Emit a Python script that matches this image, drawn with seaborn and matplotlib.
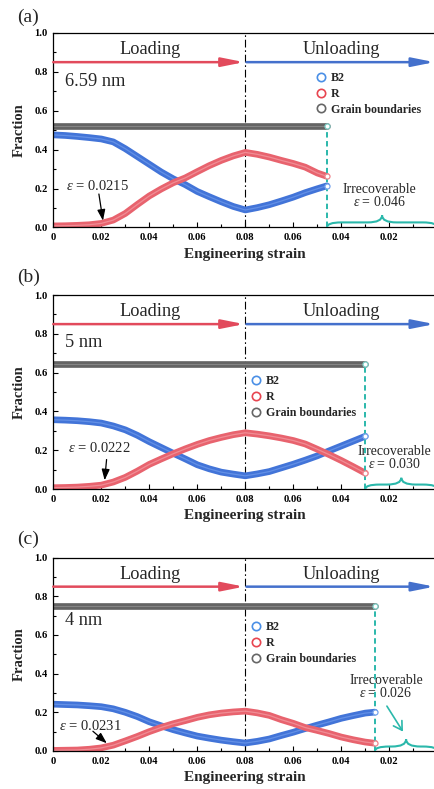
import matplotlib
matplotlib.use("Agg")
import matplotlib.pyplot as plt
import matplotlib.patheffects as pe
from matplotlib.path import Path
from matplotlib.patches import PathPatch
from matplotlib.lines import Line2D
import numpy as np
import pandas as pd
import seaborn as sns

# ---------------- data ----------------
panel_tags = ["(a)", "(b)", "(c)"]
grain_sizes = ["6.59 nm", "5 nm", "4 nm"]
onset_strain = [0.0215, 0.0222, 0.0231]
residual_strain = [0.046, 0.030, 0.026]
gb_fraction = [0.52, 0.645, 0.75]
series_names = ["B2", "R", "Grain boundaries"]

load_strain = [0.0, 0.005, 0.01, 0.015, 0.02, 0.025, 0.03, 0.035, 0.04,
               0.045, 0.05, 0.055, 0.06, 0.065, 0.07, 0.075, 0.08]

# (a) 6.59 nm
b2_load_a = [0.476, 0.473, 0.468, 0.462, 0.455, 0.44, 0.405, 0.365, 0.325,
             0.285, 0.25, 0.22, 0.185, 0.158, 0.132, 0.108, 0.09]
r_load_a = [0.008, 0.009, 0.011, 0.014, 0.021, 0.038, 0.072, 0.118, 0.162,
            0.198, 0.23, 0.255, 0.287, 0.318, 0.345, 0.368, 0.386]
unload_strain_a = [0.08, 0.075, 0.07, 0.065, 0.06, 0.055, 0.05, 0.046]
b2_unload_a = [0.09, 0.102, 0.117, 0.136, 0.156, 0.179, 0.199, 0.214]
r_unload_a = [0.386, 0.376, 0.362, 0.345, 0.329, 0.31, 0.28, 0.263]

# (b) 5 nm
b2_load_b = [0.357, 0.355, 0.352, 0.347, 0.34, 0.325, 0.305, 0.277, 0.244,
             0.214, 0.184, 0.155, 0.125, 0.104, 0.087, 0.077, 0.068]
r_load_b = [0.007, 0.008, 0.01, 0.014, 0.02, 0.036, 0.06, 0.092, 0.127,
            0.155, 0.182, 0.207, 0.23, 0.25, 0.266, 0.28, 0.29]
unload_strain_b = [0.08, 0.075, 0.07, 0.065, 0.06, 0.055, 0.05, 0.045, 0.04,
                   0.035, 0.03]
b2_unload_b = [0.068, 0.078, 0.09, 0.109, 0.128, 0.149, 0.171, 0.197, 0.222,
               0.247, 0.272]
r_unload_b = [0.29, 0.283, 0.274, 0.263, 0.25, 0.232, 0.205, 0.177, 0.147,
              0.115, 0.082]

# (c) 4 nm
b2_load_c = [0.242, 0.24, 0.238, 0.234, 0.229, 0.218, 0.2, 0.178, 0.151,
             0.13, 0.11, 0.093, 0.077, 0.066, 0.056, 0.048, 0.041]
r_load_c = [0.003, 0.004, 0.005, 0.009, 0.016, 0.03, 0.052, 0.075, 0.1,
            0.122, 0.141, 0.157, 0.174, 0.187, 0.196, 0.202, 0.206]
unload_strain_c = [0.08, 0.075, 0.07, 0.065, 0.06, 0.055, 0.05, 0.045, 0.04,
                   0.035, 0.03, 0.026]
b2_unload_c = [0.041, 0.05, 0.062, 0.08, 0.097, 0.116, 0.134, 0.151, 0.169,
               0.183, 0.196, 0.201]
r_unload_c = [0.206, 0.197, 0.184, 0.162, 0.143, 0.121, 0.106, 0.09, 0.072,
              0.058, 0.046, 0.04]

b2_load = [b2_load_a, b2_load_b, b2_load_c]
r_load = [r_load_a, r_load_b, r_load_c]
unload_strain = [unload_strain_a, unload_strain_b, unload_strain_c]
b2_unload = [b2_unload_a, b2_unload_b, b2_unload_c]
r_unload = [r_unload_a, r_unload_b, r_unload_c]

x_ticks = [0.0, 0.02, 0.04, 0.06, 0.08, 0.10, 0.12, 0.14, 0.16]
x_tick_labels = ["0", "0.02", "0.04", "0.06", "0.08", "0.06", "0.04", "0.02", "0"]
y_ticks = [0.0, 0.2, 0.4, 0.6, 0.8, 1.0]
y_tick_labels = ["0.0", "0.2", "0.4", "0.6", "0.8", "1.0"]

# ---------------- style ----------------
sns.set_theme(style="ticks")
plt.rcParams["font.family"] = ["Liberation Serif", "DejaVu Serif"]
plt.rcParams["mathtext.fontset"] = "custom"
plt.rcParams["mathtext.rm"] = "Liberation Serif"
plt.rcParams["mathtext.it"] = "Liberation Serif:italic"
plt.rcParams["axes.linewidth"] = 0.9

BLUE_OUT, BLUE_IN = "#4274d8", "#6390e6"
RED_OUT, RED_IN = "#e8636e", "#f08d95"
GRAY_OUT, GRAY_IN = "#646464", "#858585"
TEAL = "#2bb8ab"
ARROW_RED, ARROW_BLUE = "#e24a5c", "#4470cc"
LEG_COLORS = ["#4a8fe6", "#e84550", "#666666"]

# per-panel layout details
axes_boxes = [[0.1228, 0.7117, 0.8848, 0.2465],
              [0.1228, 0.3802, 0.8848, 0.2459],
              [0.1228, 0.0482, 0.8848, 0.2450]]
tag_y = [0.978, 0.649, 0.316]
size_label_y = [0.75, 0.754, 0.675]
legend_anchor = [(0.1095, 0.80), (0.0823, 0.587), (0.0823, 0.67)]
onset_text = [(0.0184, 0.214), (0.019, 0.211), (0.0153, 0.13)]
onset_tail = [(0.0190, 0.172), (0.0222, 0.152), (0.0165, 0.102)]
onset_tip_y = [0.035, 0.045, 0.04]
irr_text = [(0.136, 0.195, 0.13), (0.142, 0.192, 0.129), (0.1386, 0.363, 0.298)]
brace_levels = [(0.026, 0.062), (0.023, 0.058), (0.023, 0.06)]


def band(ax, x, y, outer, inner, inner_lw=0.9):
    sns.lineplot(x=x, y=y, ax=ax, color=inner, lw=inner_lw, sort=False,
                 estimator=None, legend=False,
                 solid_capstyle="round", solid_joinstyle="round",
                 path_effects=[pe.Stroke(linewidth=4.8, foreground=outer,
                                         capstyle="round", joinstyle="round"),
                               pe.Normal()])


def brace(ax, x0, x1, arm, peak, color):
    xm = 0.5 * (x0 + x1)
    q = 0.006
    verts = [(x0, 0.0), (x0, arm), (x0 + q, arm),
             (xm - q, arm),
             (xm, arm), (xm, peak),
             (xm, arm), (xm + q, arm),
             (x1 - q, arm),
             (x1, arm), (x1, 0.0)]
    codes = [Path.MOVETO, Path.CURVE3, Path.CURVE3,
             Path.LINETO,
             Path.CURVE3, Path.CURVE3,
             Path.CURVE3, Path.CURVE3,
             Path.LINETO,
             Path.CURVE3, Path.CURVE3]
    ax.add_patch(PathPatch(Path(verts, codes), fill=False, edgecolor=color,
                           lw=1.5, clip_on=True, zorder=4))


fig = plt.figure(figsize=(4.34, 7.89), dpi=100)

for i in range(3):
    ax = fig.add_axes(axes_boxes[i])
    end_path = 0.16 - residual_strain[i]

    path_x = list(load_strain) + [0.16 - s for s in unload_strain[i][1:]]
    b2_y = list(b2_load[i]) + list(b2_unload[i][1:])
    r_y = list(r_load[i]) + list(r_unload[i][1:])
    df = pd.DataFrame({"path": path_x, "B2": b2_y, "R": r_y})

    # grain boundary fraction stays flat through the whole cycle
    gb_x = [0.0, 0.08, end_path]
    gb_y = [gb_fraction[i]] * 3
    band(ax, gb_x, gb_y, GRAY_OUT, GRAY_IN, inner_lw=0.8)
    band(ax, df["path"], df["B2"], BLUE_OUT, BLUE_IN)
    band(ax, df["path"], df["R"], RED_OUT, RED_IN)

    # open end points at the end of unloading
    ax.plot([end_path], [b2_y[-1]], "o", ms=3.6, mfc="white", mec="#7aa6ee", mew=0.9, zorder=5)
    ax.plot([end_path], [r_y[-1]], "o", ms=3.6, mfc="white", mec="#f08a92", mew=0.9, zorder=5)
    ax.plot([end_path], [gb_fraction[i]], "o", ms=3.6, mfc="white", mec="#7fd0c8", mew=0.9, zorder=5)

    # loading / unloading guides
    ax.axvline(0.08, color="black", lw=0.8, ls=(0, (7, 2.5, 1.5, 2.5)), zorder=1)
    ax.plot([end_path, end_path], [0, gb_fraction[i]], color=TEAL, lw=1.4,
            dashes=(2.8, 1.8), zorder=4)
    ax.annotate("", xy=(0.0795, 0.85), xytext=(0.0, 0.85),
                arrowprops=dict(arrowstyle="-|>,head_length=1.1,head_width=0.22",
                                color=ARROW_RED, lw=1.8, shrinkA=0, shrinkB=0))
    ax.annotate("", xy=(0.1588, 0.85), xytext=(0.0805, 0.85),
                arrowprops=dict(arrowstyle="-|>,head_length=1.1,head_width=0.22",
                                color=ARROW_BLUE, lw=1.8, shrinkA=0, shrinkB=0))
    ax.text(0.0403, 0.913, "Loading", ha="center", va="center", fontsize=13.2)
    ax.text(0.12, 0.913, "Unloading", ha="center", va="center", fontsize=13.2)
    ax.text(0.005, size_label_y[i], grain_sizes[i], ha="left", va="center", fontsize=13.2)

    # transformation onset
    tx, ty = onset_text[i]
    ax.text(tx, ty, r"$\varepsilon$ = %.4f" % onset_strain[i], ha="center",
            va="center", fontsize=10.5)
    ax.annotate("", xy=(onset_strain[i] - 0.0008, onset_tip_y[i]), xytext=onset_tail[i],
                arrowprops=dict(arrowstyle="-|>,head_length=0.55,head_width=0.2",
                                color="black", lw=0.9, shrinkA=0, shrinkB=0))

    # irrecoverable strain
    ix, iy1, iy2 = irr_text[i]
    ax.text(ix, iy1, "Irrecoverable", ha="center", va="center", fontsize=10)
    ax.text(ix, iy2, r"$\varepsilon$ = %.3f" % residual_strain[i], ha="center",
            va="center", fontsize=10)
    arm, peak = brace_levels[i]
    brace(ax, end_path, 0.16, arm, peak, TEAL)
    if i == 2:
        ax.annotate("", xy=(0.1457, 0.10), xytext=(0.139, 0.232),
                    arrowprops=dict(arrowstyle="->,head_length=0.5,head_width=0.3",
                                    color=TEAL, lw=1.2, shrinkA=0, shrinkB=0))

    # legend
    handles = [Line2D([], [], marker="o", ls="none", mfc="none", mec=c, mew=1.2, ms=6)
               for c in LEG_COLORS]
    ax.legend(handles, series_names, loc="upper left", bbox_to_anchor=legend_anchor[i],
              bbox_transform=ax.transData, frameon=False, borderpad=0,
              borderaxespad=0, handlelength=0.8, handletextpad=0.45,
              labelspacing=0.32,
              prop=dict(family="Liberation Serif", weight="bold", size=8.6))

    # axes
    ax.set_xlim(0, 0.16)
    ax.set_ylim(0, 1.0)
    ax.set_xticks(x_ticks)
    ax.set_xticklabels(x_tick_labels)
    ax.set_xticks(np.arange(0.01, 0.16, 0.02), minor=True)
    ax.set_yticks(y_ticks)
    ax.set_yticklabels(y_tick_labels)
    ax.set_yticks([0.1, 0.3, 0.5, 0.7, 0.9], minor=True)
    ax.tick_params(which="both", direction="in", width=0.8, pad=4,
                   labelsize=7.6, colors="black", bottom=True, left=True)
    ax.tick_params(which="major", length=3.5)
    ax.tick_params(which="minor", length=2)
    for lab in ax.get_xticklabels() + ax.get_yticklabels():
        lab.set_fontweight("bold")
    ax.set_xlabel("Engineering strain", fontsize=11, fontweight="bold", labelpad=4)
    ax.set_ylabel("Fraction", fontsize=10.5, fontweight="bold", labelpad=6)
    for side in ["top", "left", "bottom", "right"]:
        ax.spines[side].set_color("black")

    fig.text(0.039, tag_y[i], panel_tags[i], ha="left", va="center", fontsize=14)

fig.savefig("out.png", dpi=100)
